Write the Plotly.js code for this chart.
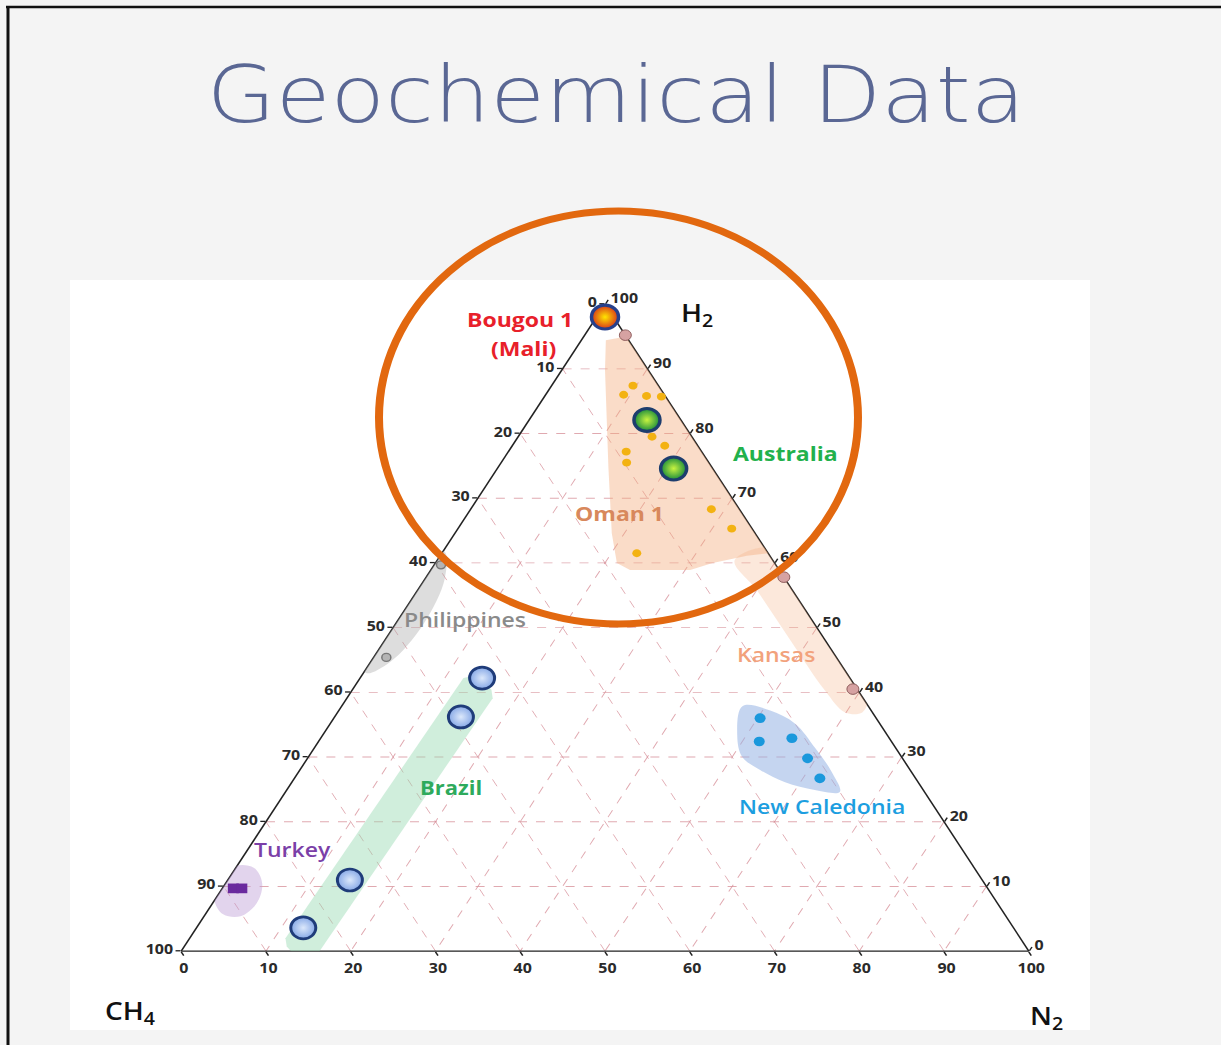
<!DOCTYPE html>
<html><head><meta charset="utf-8">
<script src="https://cdn.plot.ly/plotly-3.0.1.min.js"></script>
<style>
html,body{margin:0;padding:0;background:#f4f4f4;overflow:hidden;width:1221px;height:1045px}
#chart{width:1221px;height:1186px;transform:scaleY(0.8815);transform-origin:0 0;}
</style>
</head><body><div id="chart"></div>
<script>
// ---------------- DATA (a = H2, b = CH4, c = N2, in %) ----------------
const tickVals = [0, 10, 20, 30, 40, 50, 60, 70, 80, 90, 100];
const tickText = ['100', '90', '80', '70', '60', '50', '40', '30', '20', '10', '0'];

const bougouH2 = [98.0], bougouCH4 = [1.0], bougouN2 = [1.0];
const kansasH2 = [95.2, 57.8, 40.5], kansasCH4 = [0.0, 0.0, 0.5], kansasN2 = [4.8, 42.2, 59.0];
const philH2 = [59.7, 45.4], philCH4 = [39.5, 53.1], philN2 = [0.8, 1.5];
const omanH2  = [87.4, 86.0, 85.8, 85.7, 79.5, 78.1, 77.2, 75.5, 68.3, 65.3, 61.5];
const omanCH4 = [3.0, 4.8, 2.2, 0.5, 4.7, 3.9, 8.9, 9.7, 3.3, 2.4, 15.5];
const omanN2  = [9.6, 9.2, 12.0, 13.8, 15.8, 18.0, 13.9, 14.8, 28.4, 32.3, 23.0];
const ausH2 = [82.1, 74.6], ausCH4 = [4.0, 4.6], ausN2 = [13.9, 20.8];
const brazilH2 = [42.2, 36.2, 11.0, 3.6], brazilCH4 = [43.4, 48.9, 74.6, 83.8], brazilN2 = [14.4, 14.9, 14.4, 12.6];
const turkeyH2 = [9.7, 9.7], turkeyCH4 = [89.0, 88.0], turkeyN2 = [1.3, 2.3];
const ncH2 = [36.0, 32.4, 32.9, 29.8, 26.7], ncCH4 = [13.7, 15.6, 11.5, 11.2, 11.3], ncN2 = [50.3, 52.0, 55.6, 59.0, 62.0];

// shaded group outlines
const omanZoneH2  = [94.4, 95.0, 61.5, 61.1, 60.0, 58.9, 58.9, 60.0, 64.6, 74.8, 89.8, 94.4];
const omanZoneCH4 = [2.7, 0.0, 0.0, 2.7, 7.3, 10.5, 17.6, 18.6, 16.9, 12.2, 5.1, 2.7];
const omanZoneN2  = [2.9, 5.0, 38.5, 36.2, 32.7, 30.6, 23.5, 21.4, 18.5, 13.0, 5.1, 2.9];
const kansasZoneH2  = [60.4, 62.3, 54.3, 45.8, 39.6, 36.9, 36.9, 40.3, 48.1, 55.8, 60.4];
const kansasZoneCH4 = [4.5, -0.8, -0.1, 0.0, -0.8, 1.2, 3.2, 3.9, 4.1, 4.2, 4.5];
const kansasZoneN2  = [35.1, 38.5, 45.8, 54.2, 61.2, 61.9, 59.9, 55.8, 47.8, 40.0, 35.1];
const philZoneH2  = [61.8, 57.6, 50.5, 44.7, 43.0, 47.2, 54.3, 60.1, 61.8];
const philZoneCH4 = [38.1, 40.1, 46.2, 53.0, 56.7, 54.7, 48.6, 41.8, 38.1];
const philZoneN2  = [0.1, 2.3, 3.3, 2.3, 0.3, -1.9, -2.9, -1.9, 0.1];
const brazilZoneH2  = [42.2, 42.5, 41.8, 40.4, 39.1, -1.1, -1.4, -0.7, 0.7, 2.0, 42.2];
const brazilZoneCH4 = [45.6, 44.5, 43.5, 43.2, 43.7, 84.8, 85.9, 86.9, 87.2, 86.7, 45.6];
const brazilZoneN2  = [12.2, 13.0, 14.7, 16.4, 17.2, 16.3, 15.5, 13.8, 12.1, 11.3, 12.2];
const turkeyZoneH2  = [12.9, 10.5, 7.4, 5.4, 5.7, 8.0, 11.1, 13.2, 12.9];
const turkeyZoneCH4 = [85.0, 85.2, 87.4, 90.3, 92.2, 92.1, 89.9, 86.9, 85.0];
const turkeyZoneN2  = [2.1, 4.3, 5.2, 4.3, 2.1, -0.1, -1.0, -0.1, 2.1];
const ncZoneH2  = [37.9, 37.2, 35.2, 31.4, 27.7, 24.6, 24.9, 26.1, 28.0, 30.0, 33.4, 37.9];
const ncZoneCH4 = [14.8, 11.9, 10.0, 9.5, 9.4, 10.0, 12.8, 15.7, 17.7, 18.8, 17.7, 14.8];
const ncZoneN2  = [47.3, 50.9, 54.8, 59.1, 62.9, 65.4, 62.3, 58.2, 54.3, 51.2, 48.9, 47.3];

// ---------------- layout helpers ----------------
const S = 0.8815, L = 181, T = 345, W = 848, H = 734;
const px = x => (x - L) / W;
const py = y => 1 - (y / S - T) / H;

function zone(a, b, c, fill, smooth) {
  return {type: 'scatterternary', mode: 'lines', a: a, b: b, c: c, fill: 'toself',
    fillcolor: fill, line: {width: 0, color: fill, shape: smooth ? 'spline' : 'linear', smoothing: 1},
    hoverinfo: 'skip', showlegend: false, cliponaxis: false};
}
function pts(a, b, c, marker, name) {
  return {type: 'scatterternary', mode: 'markers', name: name, a: a, b: b, c: c,
    marker: marker, hoverinfo: 'skip', showlegend: false, cliponaxis: false};
}

const traces = [
  zone(omanZoneH2, omanZoneCH4, omanZoneN2, 'rgba(244,172,124,0.42)', false),
  zone(kansasZoneH2, kansasZoneCH4, kansasZoneN2, 'rgba(244,172,124,0.28)', true),
  zone(philZoneH2, philZoneCH4, philZoneN2, 'rgba(175,175,175,0.42)', true),
  zone(brazilZoneH2, brazilZoneCH4, brazilZoneN2, 'rgba(150,218,178,0.45)', false),
  zone(turkeyZoneH2, turkeyZoneCH4, turkeyZoneN2, 'rgba(190,160,215,0.45)', true),
  zone(ncZoneH2, ncZoneCH4, ncZoneN2, 'rgba(150,178,228,0.55)', true),
  pts(omanH2, omanCH4, omanN2, {size: 9, color: '#f3b212'}, 'Oman 1'),
  pts(kansasH2, kansasCH4, kansasN2, {size: 12, color: '#d6a2a2', line: {color: '#8a5858', width: 1}}, 'Kansas'),
  pts(philH2, philCH4, philN2, {size: 9, color: '#b4b4b4', line: {color: '#777', width: 1.5}}, 'Philippines'),
  pts(ncH2, ncCH4, ncN2, {size: 11, color: '#1a98dc'}, 'New Caledonia'),
  pts(turkeyH2, turkeyCH4, turkeyN2, {size: 11, symbol: 'square', color: '#6a2a9e'}, 'Turkey'),
  pts(brazilH2, brazilCH4, brazilN2, {size: 25, color: '#86a8e6', gradient: {type: 'radial', color: '#dce8fb'},
      line: {color: '#1f3c7a', width: 3}}, 'Brazil'),
  pts(ausH2, ausCH4, ausN2, {size: 26, color: '#1a8c3c', gradient: {type: 'radial', color: '#c8f440'},
      line: {color: '#1d3d6e', width: 3.5}}, 'Australia'),
  pts(bougouH2, bougouCH4, bougouN2, {size: 27, color: '#d8361a', gradient: {type: 'radial', color: '#ffe600'},
      line: {color: '#27408b', width: 3.5}}, 'Bougou 1 (Mali)')
];

const axisCommon = {
  tickmode: 'array', tickvals: tickVals, ticktext: tickText,
  ticks: 'outside', ticklen: 5, tickwidth: 1.5, tickcolor: '#222',
  showline: true, linecolor: '#222', linewidth: 1.6,
  showgrid: true, gridcolor: 'rgba(214,140,150,0.75)', gridwidth: 1, griddash: 'dash',
  tickfont: {family: 'Open Sans', size: 16, color: '#2a2a2a', weight: 700},
  layer: 'below traces',
  title: {text: ''}
};

const lab = (text, x, y, color, size, weight, family) => ({
  text: text, x: px(x), y: py(y), xref: 'paper', yref: 'paper', showarrow: false,
  xanchor: 'center', yanchor: 'middle',
  font: {family: family || 'Open Sans', size: size, color: color, weight: weight}
});

const layout = {
  width: 1221, height: 1186,
  margin: {l: L, r: 1221 - L - W, t: T, b: 1186 - T - H, pad: 0},
  paper_bgcolor: '#f4f4f4',
  showlegend: false,
  title: {text: 'Geochemical Data', x: 616 / 1221, y: 1 - (95 / S) / 1186,
    xref: 'container', yref: 'container', xanchor: 'center', yanchor: 'middle',
    font: {family: 'DejaVu Sans', size: 89, color: '#5a6794', weight: 200}},
  ternary: {
    sum: 100, bgcolor: 'rgba(0,0,0,0)',
    aaxis: Object.assign({}, axisCommon),
    baxis: Object.assign({}, axisCommon),
    caxis: Object.assign({}, axisCommon)
  },
  shapes: [
    {type: 'rect', xref: 'paper', yref: 'paper', x0: px(70), x1: px(1090), y0: py(1030), y1: py(280),
      fillcolor: '#ffffff', line: {width: 0}, layer: 'below'},
    {type: 'line', xref: 'paper', yref: 'paper', x0: px(6), x1: px(1230), y0: py(7), y1: py(7),
      line: {color: '#111', width: 3}, layer: 'above'},
    {type: 'line', xref: 'paper', yref: 'paper', x0: px(8), x1: px(8), y0: py(6), y1: py(1060),
      line: {color: '#111', width: 3}, layer: 'above'},
    {type: 'circle', xref: 'paper', yref: 'paper', x0: px(379), x1: px(858), y0: py(624), y1: py(211),
      line: {color: '#e2680f', width: 8}, layer: 'above'}
  ],
  annotations: [
    lab('Bougou 1', 520, 319, '#e8202a', 23, 700),
    lab('(Mali)', 523, 348, '#e8202a', 23, 700),
    lab('Australia', 785, 453, '#22b14c', 23, 700),
    lab('Oman 1', 619, 513, '#d8885c', 23, 700),
    lab('Philippines', 465, 619, '#8a8a8a', 23, 600),
    lab('Kansas', 776, 654, '#f2a27c', 23, 600),
    lab('Brazil', 451, 787, '#2eaa5c', 22, 700),
    lab('Turkey', 292, 849, '#7b3fa8', 23, 600),
    lab('New Caledonia', 822, 807, '#1c9ee0', 23, 600),
    lab('H<sub>2</sub>', 697, 314, '#111', 28, 600),
    lab('CH<sub>4</sub>', 130, 1012, '#111', 28, 600),
    lab('N<sub>2</sub>', 1046, 1017, '#111', 28, 600)
  ]
};

Plotly.newPlot('chart', traces, layout, {staticPlot: true, displayModeBar: false});
</script></body></html>
